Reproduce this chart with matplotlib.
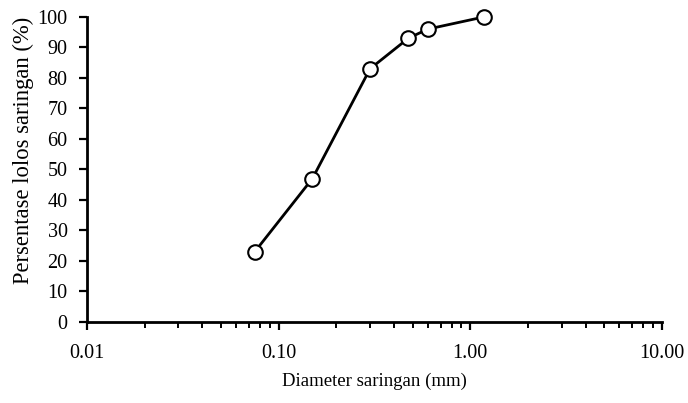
import matplotlib
matplotlib.use("Agg")
import matplotlib.pyplot as plt
from matplotlib.ticker import FixedLocator, FuncFormatter, LogLocator, NullFormatter

diameter_mm = [0.075, 0.15, 0.3, 0.475, 0.6, 1.18]
percent_passing = [23, 47, 83, 93, 96, 100]
x_ticks = [0.01, 0.1, 1, 10]
x_tick_labels = ["0.01", "0.10", "1.00", "10.00"]
y_ticks = list(range(0, 101, 10))

plt.rcParams['font.family'] = ['Liberation Serif', 'DejaVu Serif']

fig = plt.figure(figsize=(6.88, 4.03), dpi=100)
ax = fig.add_axes([0.1265, 0.201, 0.8355, 0.757])

ax.plot(diameter_mm, percent_passing, color='black', linewidth=2.0,
        marker='o', markersize=10.5, markerfacecolor='white',
        markeredgecolor='black', markeredgewidth=1.5, zorder=3, clip_on=False)

ax.set_xscale('log')
ax.set_xlim(0.01, 10)
ax.set_ylim(0, 100)
ax.xaxis.set_major_locator(FixedLocator(x_ticks))
ax.xaxis.set_major_formatter(FuncFormatter(lambda v, p: x_tick_labels[x_ticks.index(v)] if v in x_ticks else ""))
ax.xaxis.set_minor_locator(LogLocator(base=10, subs=range(2, 10)))
ax.xaxis.set_minor_formatter(NullFormatter())
ax.set_yticks(y_ticks)

for s in ['top', 'right']:
    ax.spines[s].set_visible(False)
for s in ['left', 'bottom']:
    ax.spines[s].set_linewidth(2.0)

ax.tick_params(axis='both', which='major', length=6, width=1.6, labelsize=14.5, direction='out')
ax.tick_params(axis='x', which='minor', length=4, width=1.4, direction='out')
ax.tick_params(axis='x', which='major', pad=10)
ax.tick_params(axis='y', which='major', pad=8)

ax.set_xlabel('Diameter saringan (mm)', fontsize=13.5, labelpad=7)
ax.set_ylabel('Persentase lolos saringan (%)', fontsize=16.3)
ax.yaxis.set_label_coords(-0.092, 0.564)

fig.savefig('out.png', dpi=100)
